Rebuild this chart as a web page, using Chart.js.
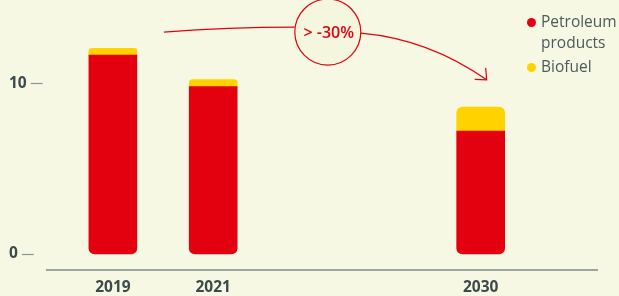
<!DOCTYPE html>
<html>
<head>
<meta charset="utf-8">
<script src="https://cdn.jsdelivr.net/npm/chart.js@4/dist/chart.umd.min.js"></script>
<style>
    html, body { margin: 0; padding: 0; background: #f7f8e4; }
    #wrap { position: relative; width: 619px; height: 296px; }
    #legend { position: absolute; left: 526px; top: 11px; font-family: "Open Sans", sans-serif; font-size: 15.5px; color: #4b5a5c; line-height: 21px; }
    #legend .item { position: relative; padding-left: 15px; margin-bottom: 3px; }
    #legend .dot { position: absolute; left: 1px; top: 7px; width: 9px; height: 9px; border-radius: 50%; }
</style>
</head>
<body>
<div id="wrap">
    <canvas id="fuelchart" width="619" height="296"></canvas>
    <div id="legend">
        <div class="item"><span class="dot" style="background:#e3000f"></span>Petroleum<br>products</div>
        <div class="item"><span class="dot" style="background:#ffd200"></span>Biofuel</div>
    </div>
</div>
<script>
// blank slots keep the uneven spacing between the years
var categories = ["", "", "2019", "", "", "2021", "", "", "", "", "", "", "", "2030", "", "", ""];
var petroleum  = [null, null, 11.65, null, null, 9.8, null, null, null, null, null, null, null, 7.2, null, null, null];
var biofuel    = [null, null, 0.4, null, null, 0.42, null, null, null, null, null, null, null, 1.4, null, null, null];
var yTicks = [0, 10];
var changeLabel = "> -30%";

var red = "#e3000f";
var yellow = "#ffd200";
var ink = "#3b4a4c";
var tickFont = "bold 15.5px 'Open Sans', sans-serif";

var annotation = {
    id: "annotation",
    afterDraw: function(chart){
        var ctx = chart.ctx;
        var x = chart.scales.x, y = chart.scales.y;
        var x19 = x.getPixelForValue(2), x30 = x.getPixelForValue(13);
        var cx = (x19 + x30) / 2 + 31, cy = y.getPixelForValue(13.0);
        var r = 33;
        ctx.save();
        // axis line below the bars
        ctx.strokeStyle = "#7d8888";
        ctx.lineWidth = 1.5;
        ctx.beginPath();
        ctx.moveTo(chart.chartArea.left, chart.chartArea.bottom);
        ctx.lineTo(chart.width - 21, chart.chartArea.bottom);
        ctx.stroke();

        // little dashes after the y labels
        ctx.font = tickFont;
        ctx.strokeStyle = "#8a9595";
        ctx.lineWidth = 1.2;
        yTicks.forEach(function(v){
            var w = ctx.measureText(String(v)).width;
            var py = Math.round(y.getPixelForValue(v)) + 0.5;
            ctx.beginPath();
            ctx.moveTo(y.left + w + 4, py);
            ctx.lineTo(y.left + w + 16, py);
            ctx.stroke();
        });

        ctx.strokeStyle = red;
        ctx.lineWidth = 1.2;
        // left curve into the circle
        ctx.beginPath();
        ctx.moveTo(x19 + 51, cy);
        ctx.quadraticCurveTo(cx - 100, cy - 5, cx - r, cy - 5);
        ctx.stroke();
        // circle
        ctx.fillStyle = "#f4f6dd";
        ctx.beginPath();
        ctx.arc(cx, cy, r, 0, Math.PI * 2);
        ctx.fill();
        ctx.stroke();
        // right curve to arrow
        var tx = x30 + 6, ty = y.getPixelForValue(10.2);
        ctx.beginPath();
        ctx.moveTo(cx + r, cy + 1);
        ctx.quadraticCurveTo(cx + 101, cy + 7, tx, ty);
        ctx.stroke();
        ctx.beginPath();
        ctx.moveTo(tx - 1, ty - 12);
        ctx.lineTo(tx, ty);
        ctx.lineTo(tx - 12, ty - 0.5);
        ctx.stroke();
        // label
        ctx.fillStyle = red;
        ctx.font = "600 16px 'Open Sans', sans-serif";
        ctx.textAlign = "center";
        ctx.textBaseline = "middle";
        ctx.fillText(changeLabel, cx + 1, cy + 1);
        ctx.restore();
    }
};

var ctxB = document.getElementById("fuelchart").getContext("2d");
var fuelChart = new Chart(ctxB, {
    type: "bar",
    data: {
        labels: categories,
        datasets: [
            {
                label: "Petroleum products",
                data: petroleum,
                backgroundColor: red,
                borderRadius: { topLeft: 0, topRight: 0, bottomLeft: 6, bottomRight: 6 },
                borderSkipped: false,
                barThickness: 48
            },
            {
                label: "Biofuel",
                data: biofuel,
                backgroundColor: yellow,
                borderRadius: { topLeft: 6, topRight: 6, bottomLeft: 0, bottomRight: 0 },
                borderSkipped: false,
                barThickness: 48
            }
        ]
    },
    options: {
        responsive: false,
        animation: false,
        layout: { padding: { top: 15, right: 38, bottom: 0, left: 9 } },
        plugins: {
            legend: { display: false },
            tooltip: { enabled: false }
        },
        scales: {
            x: {
                stacked: true,
                offset: false,
                grid: { display: false, drawTicks: false },
                border: { display: false },
                ticks: {
                    autoSkip: false,
                    maxRotation: 0,
                    padding: 8,
                    color: ink,
                    font: { family: "Open Sans", size: 15.5, weight: "bold" }
                },
                afterFit: function(axis){ axis.height = 26; }
            },
            y: {
                stacked: true,
                min: -0.94,
                max: 14,
                grid: { display: false, drawTicks: false },
                border: { display: false },
                afterBuildTicks: function(axis){
                    axis.ticks = yTicks.map(function(v){ return { value: v }; });
                },
                ticks: {
                    crossAlign: "far",
                    padding: 0,
                    color: ink,
                    font: { family: "Open Sans", size: 15.5, weight: "bold" }
                },
                afterFit: function(axis){ axis.width = 37; }
            }
        }
    },
    plugins: [annotation]
});
</script>
</body>
</html>
